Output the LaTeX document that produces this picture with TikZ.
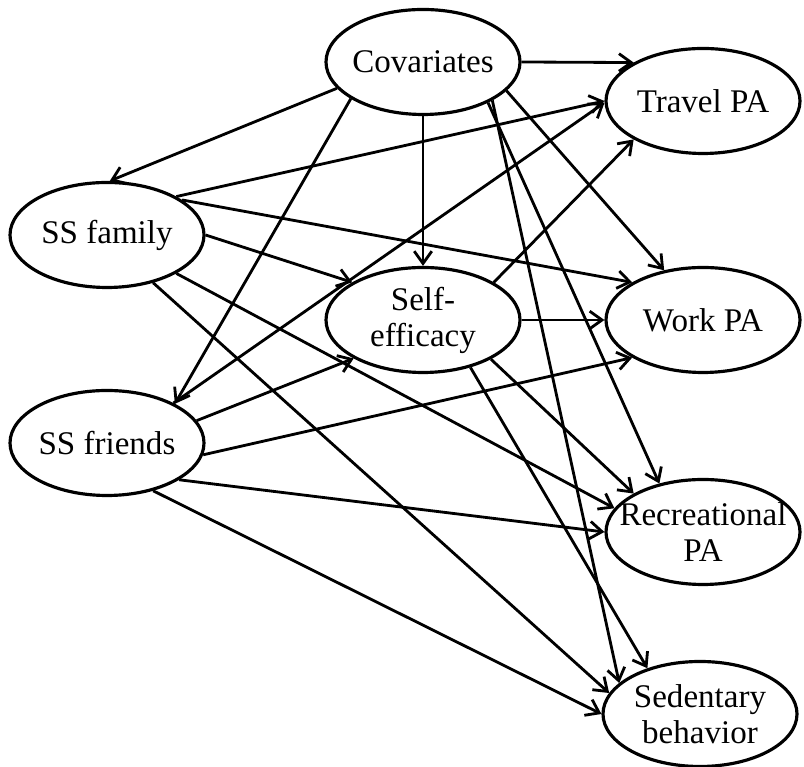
\documentclass[tikz,border=0pt]{standalone}
\usepackage{fontspec}
\setmainfont{Liberation Serif}
\usetikzlibrary{shapes.geometric, arrows.meta}

\begin{document}
\begin{tikzpicture}[every node/.style={font=\fontsize{18.8}{20.5}\selectfont}]
    \tikzset{construct/.style={ellipse, draw, line width=1.8pt, minimum width=3.88cm,
                          minimum height=2.1cm, inner sep=-12pt, align=center}}
    \useasboundingbox (0,0) rectangle (16.08,15.34);
    \node[construct] (cov) at (8.46,14.10) {Covariates};
    \node[construct] (trav) at (14.06,13.32) {Travel PA};
    \node[construct] (fam) at (2.14,10.64) {SS family};
    \node[construct] (self) at (8.46,8.94) {Self-\\efficacy};
    \node[construct] (work) at (14.06,8.94) {Work PA};
    \node[construct] (fri) at (2.14,6.48) {SS friends};
    \node[construct] (rec) at (14.06,4.70) {Recreational\\PA};
    \node[construct] (sed) at (14.00,1.06) {Sedentary\\behavior};
    \foreach \a/\b in {cov.0/trav.151, cov.197/fam.87, cov.270/self.90, cov.207/fri.30,
                       cov.341/work.128, cov.328/rec.132, cov.331/sed.159,
                       fam.29/trav.180, fam.0/self.152, fam.25/work.152, fam.331/rec.165, fam.314/sed.167,
                       fri.31/trav.181, fri.14/self.209, fri.353/work.208, fri.333/rec.180, fri.314/sed.180,
                       self.28/trav.209, self.0/work.180, self.330/rec.151, self.315/sed.139}
      \draw[-{Straight Barb[length=7pt, width=10pt]}, line width=1.6pt] (\a) -- (\b);
\end{tikzpicture}
\end{document}
